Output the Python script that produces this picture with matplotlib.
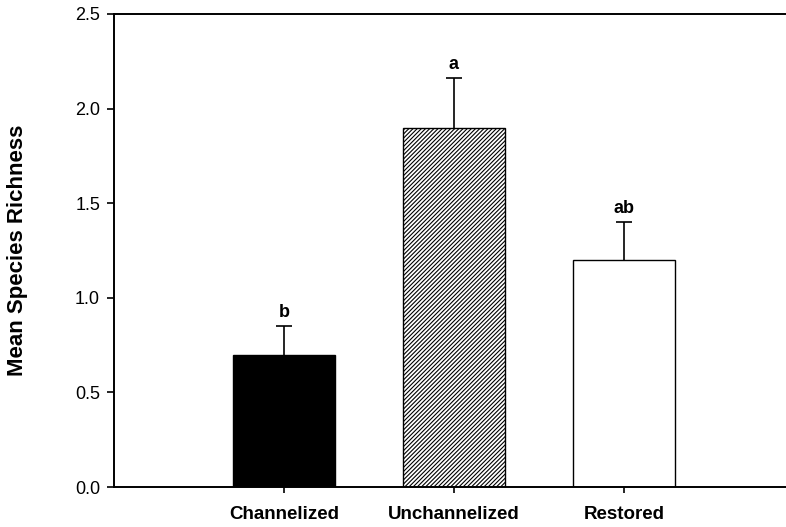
import matplotlib
matplotlib.use("Agg")
import matplotlib.pyplot as plt

# Mean species richness by stream treatment
categories = ["Channelized", "Unchannelized", "Restored"]
means = [0.70, 1.90, 1.20]
errors = [0.15, 0.26, 0.20]
letters = ["b", "a", "ab"]
y_ticks = [0.0, 0.5, 1.0, 1.5, 2.0, 2.5]

plt.rcParams["font.family"] = ["Liberation Sans", "DejaVu Sans"]
plt.rcParams["hatch.linewidth"] = 0.8

fig = plt.figure(figsize=(7.86, 5.27), dpi=100)
ax = fig.add_axes([114 / 786, 1 - 487 / 527, 1 - 114 / 786, (487 - 14) / 527])

x = list(range(len(categories)))
faces = ["black", "white", "white"]
hatches = [None, "////////", None]
for xi, m, fc, h in zip(x, means, faces, hatches):
    ax.bar(xi, m, width=0.6, color=fc, edgecolor="black", linewidth=1.0,
           hatch=h, zorder=2)

# symmetric bars drawn behind the columns so only the upper half shows
ax.errorbar(x, means, yerr=errors, fmt="none",
            ecolor="black", elinewidth=1.2, capsize=5.5, capthick=1.2, zorder=1)

for xi, m, e, lab in zip(x, means, errors, letters):
    ax.annotate(lab, (xi, m + e), xytext=(0, 4), textcoords="offset points",
                ha="center", va="bottom", fontsize=13, fontweight="bold")

ax.set_xlim(-1.0, 2.953)
ax.set_ylim(0, 2.5)
ax.set_yticks(y_ticks)
ax.set_yticklabels([f"{v:.1f}" for v in y_ticks], fontsize=13)
ax.set_xticks(x)
ax.set_xticklabels(categories, fontsize=13.5, fontweight="bold")

ax.spines["right"].set_visible(False)
for s in ["left", "bottom", "top"]:
    ax.spines[s].set_linewidth(1.4)
    ax.spines[s].set_zorder(3)
ax.tick_params(axis="y", direction="out", length=5, width=1.2, pad=5)
ax.tick_params(axis="x", direction="out", length=4.5, width=1.2, pad=9)

fig.text(18 / 786, 1 - 250 / 527, "Mean Species Richness", rotation=90,
         ha="center", va="center", fontsize=16, fontweight="bold")

fig.savefig("out.png", dpi=100)
